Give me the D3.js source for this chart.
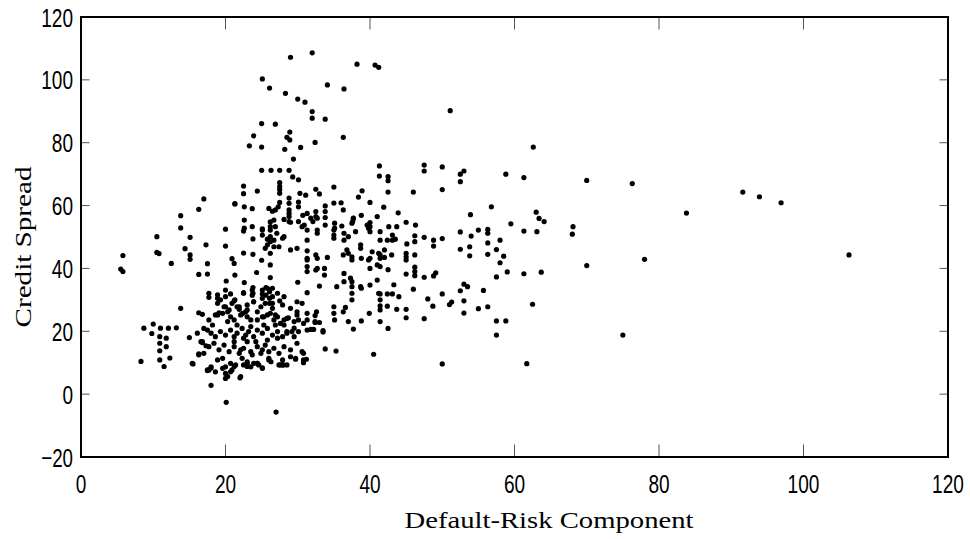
<!DOCTYPE html>
<html><head><meta charset="utf-8">
<script src="https://cdn.jsdelivr.net/npm/d3@7"></script>
<style>html,body{margin:0;padding:0;background:#fff;}svg{display:block;}</style>
</head><body>
<svg id="chart" width="970" height="539"></svg>
<script>
// Default-risk component (x) and credit spread (y)
const defaultRisk = [
70.0,76.3,91.6,93.9,96.9,83.8,68.1,68.0,70.0,78.0,106.3,75.0,51.1,62.6,
29.0,32.0,38.2,40.7,41.2,25.1,26.1,34.1,36.4,28.3,30.0,31.0,32.0,32.0,33.8,25.0,26.9,28.9,23.9,28.5,28.9,36.3,23.3,25.0,28.2,30.4,32.4,29.4,
25.0,26.3,27.5,28.8,29.3,30.1,41.3,41.3,42.5,42.5,47.5,47.5,22.5,22.5,24.4,27.5,27.5,27.5,27.5,21.3,22.6,23.7,26.0,26.5,26.9,27.3,27.5,
28.8,28.8,28.8,28.8,28.8,30.3,31.1,30.1,30.1,32.5,33.0,35.0,32.5,32.5,31.3,30.7,33.8,33.8,33.8,35.0,36.0,36.3,38.9,38.4,40.0,41.9,46.0,
43.9,45.0,46.3,41.0,38.8,37.7,37.6,26.2,26.2,25.1,22.6,22.6,23.7,28.1,29.0,30.1,30.9,35.1,35.1,36.1,40.0,40.0,42.6,43.7,
50.0,52.5,53.0,52.5,58.8,61.3,42.5,50.0,53.9,56.8,63.0,63.4,64.1,59.5,61.3,63.1,41.4,41.4,43.1,43.1,43.5,46.2,46.2,45.1,47.5,48.8,48.8,
50.0,52.5,52.5,54.0,55.0,56.3,56.3,56.3,56.3,53.8,53.8,57.5,58.0,58.5,58.0,59.0,61.3,63.7,57.5,42.0,42.0,41.4,43.0,45.0,45.0,45.0,46.2,
41.4,42.5,45.0,46.2,46.2,46.2,47.5,48.8,49.1,43.3,42.4,43.1,41.4,44.0,46.0,48.0,50.0,52.5,53.0,53.5,55.7,48.7,51.0,51.3,53.0,55.0,56.3,
62.5,41.4,42.4,43.7,45.0,
41.4,41.4,41.4,45.0,47.5,42.5,53.0,57.5,58.8,57.5,50.0,61.7,
5.8,5.5,5.8,10.5,10.5,10.8,12.5,13.8,13.8,15.1,14.4,15.1,15.1,16.3,17.0,17.3,17.5,17.5,16.3,13.8,20.0,20.0,21.3,20.9,21.2,21.3,20.1,
22.5,22.5,23.8,23.8,25.1,25.1,25.0,24.3,26.2,22.6,22.5,26.2,26.2,25.5,26.2,26.2,20.0,20.0,18.9,18.9,17.7,17.7,21.2,21.9,22.4,19.8,20.5,
19.1,18.6,16.3,16.8,25.1,25.1,25.1,26.5,26.5,26.5,23.9,23.0,24.4,25.1,25.8,26.9,8.7,10.0,11.0,12.1,13.2,
8.3,9.8,10.9,10.9,10.9,10.9,11.5,11.8,11.8,12.3,15.0,15.5,16.3,16.8,17.3,17.5,18.0,18.0,20.1,27.0,20.0,20.0,20.7,22.0,21.2,23.0,23.0,
24.4,25.1,26.3,27.6,28.0,29.7,30.8,31.2,32.4,32.4,33.0,33.5,33.8,30.8,
31.3,30.0,31.3,20.7,21.3,22.5,23.7,23.7,25.8,26.1,26.1,26.1,27.2,27.5,28.1,29.9,29.9,29.9,31.3,31.3,31.3,28.7,29.5,28.1,28.5,29.2,29.5,
17.7,18.2,17.5,
18.9,19.6,20.3,20.7,21.2,21.9,22.1,22.8,23.0,23.5,24.4,25.3,26.2,26.7,27.2,27.6,28.1,28.5,
17.0,18.0,18.6,19.3,20.0,20.7,21.2,21.6,22.3,22.8,23.2,23.9,24.4,25.1,25.8,26.5,27.2,27.9,28.5,29.5,30.1,
16.8,17.7,18.4,19.1,19.8,20.5,21.2,21.9,22.5,23.0,23.5,24.4,24.9,25.5,26.0,26.7,27.4,28.1,29.0,29.9,30.6,
15.4,16.3,17.5,18.0,18.9,19.6,20.0,20.3,20.9,21.4,22.1,22.3,23.0,23.5,24.4,25.1,26.0,27.4,27.9,29.0,29.7,30.8,
31.3,31.3,31.3,32.5,32.5,33.7,33.7,33.0,32.6,32.4,31.8,32.2,33.5,35.0,35.0,35.1,36.3,36.6,37.0,37.7,37.5,37.5,37.5,37.5,36.4,36.4,35.4,
38.8,39.9,40.5,35.3,36.3,36.8,37.5,37.5,38.8,40.0,40.0,40.3,38.8,40.0,41.0,
26.2,26.7,26.9,27.1,27.9,28.1,25.8,25.8,26.7,26.7,27.4,28.8,30.6,31.3,31.8,32.1,32.7,32.7,32.7,33.8,31.3,31.3,32.7,32.7,34.1,29.0,29.9,
23.8,23.8,25.6,25.6,35.0,35.0,35.0,36.4,36.4,37.0,37.0,37.7,37.5,38.0,38.7,38.7,39.6,39.8,40.0,39.8,41.0,41.2,41.4,42.4,37.3,38.7,41.2,
18.9,19.3,20.0,20.9,21.6,23.0,23.9,24.9,25.5,26.5,27.9,29.0,30.6,30.1,30.8,20.3,21.6,23.5,25.3,26.9,21.2,22.5,24.2,25.8,27.2,22.1,23.7,
25.1,27.9,28.5,23.9,24.6,26.0,22.5,20.7,19.6,18.6,17.7,17.0,16.6,16.1
];
const creditSpread = [
68.0,67.0,64.3,62.8,60.9,57.6,53.3,50.9,40.9,42.9,44.3,18.8,90.2,78.6,
107.2,108.6,105.0,104.7,104.0,100.3,97.4,98.4,97.1,95.7,93.9,92.9,89.9,87.8,87.5,86.1,85.9,83.4,82.2,81.7,80.9,81.7,79.0,78.6,77.9,78.5,80.1,74.8,
71.2,71.2,71.2,71.2,69.1,68.2,72.6,69.4,69.2,67.9,72.9,71.0,66.2,63.8,64.6,67.3,66.0,65.0,63.9,60.5,59.6,59.0,59.1,58.2,58.6,59.6,61.0,
62.4,60.7,58.6,56.5,54.9,63.9,63.3,61.1,59.6,65.2,63.7,65.9,58.1,56.5,57.5,56.9,59.9,58.1,56.2,60.8,60.9,58.6,64.7,62.7,61.0,59.5,64.3,
57.7,54.7,53.8,56.5,56.9,55.9,54.9,54.8,53.3,52.6,55.4,52.8,53.3,55.6,54.7,54.9,53.8,54.4,52.8,53.5,54.6,53.3,53.3,53.3,
72.3,70.0,71.0,67.6,70.0,68.9,64.3,65.1,57.1,59.6,57.9,55.9,54.9,54.2,51.9,51.7,51.7,49.0,50.6,49.0,49.3,50.4,48.5,47.8,49.9,49.0,47.1,
49.5,51.6,46.1,50.3,52.2,52.4,51.2,48.1,44.5,46.9,44.0,46.0,49.0,43.9,41.8,38.9,38.3,38.8,37.3,45.9,43.5,44.3,44.3,44.8,43.7,42.7,44.3,
40.6,39.6,38.2,40.4,39.0,37.7,37.2,37.6,38.6,34.8,31.9,31.9,31.9,31.0,33.4,30.3,31.9,32.9,35.0,34.2,33.0,28.0,28.5,29.3,29.7,27.2,27.8,
28.6,28.1,28.0,27.0,27.0,
30.0,26.8,23.1,24.3,24.0,20.9,25.8,23.3,23.3,18.8,9.6,9.7,
44.1,39.8,39.0,50.1,45.1,44.7,41.6,56.8,52.9,49.9,46.3,44.3,42.9,58.8,62.1,47.5,41.5,38.2,38.1,27.3,52.5,47.1,60.6,43.1,41.6,37.9,36.0,
51.9,44.9,49.4,44.5,52.2,50.6,42.6,38.7,37.1,35.5,32.3,50.1,48.5,46.4,44.8,41.1,33.1,31.0,31.6,30.5,32.1,30.8,29.7,27.8,25.7,27.8,26.8,
25.9,25.2,25.9,25.4,33.1,31.9,30.5,33.7,31.0,28.9,29.4,26.8,26.2,24.6,25.2,25.2,21.0,22.3,21.0,21.0,21.1,
10.4,19.3,18.3,16.2,13.8,10.9,8.8,17.8,15.1,11.5,18.0,9.6,12.8,16.4,15.4,7.5,8.3,2.8,-2.6,-5.7,5.0,6.6,7.1,5.2,8.8,9.8,8.8,
9.8,8.4,10.3,9.3,9.3,11.1,10.0,11.1,25.0,22.8,22.8,19.8,14.4,13.0,
39.0,35.6,32.3,31.9,30.0,32.1,33.1,31.5,33.7,32.6,30.5,28.9,32.1,29.7,31.0,29.4,26.2,25.2,25.7,23.6,20.4,24.3,23.1,22.0,19.9,19.9,21.0,
23.6,22.0,20.4,
25.2,25.7,26.2,24.6,23.6,27.0,25.2,26.2,24.6,23.6,23.6,24.6,25.7,23.6,24.6,22.5,23.6,24.1,
20.9,19.4,18.3,19.9,18.8,20.4,18.3,19.4,20.9,18.8,19.9,18.3,20.4,19.4,20.9,18.8,19.9,18.3,19.4,18.3,19.9,
16.7,15.1,16.2,14.1,15.6,13.5,15.1,13.0,14.6,16.7,13.5,15.1,13.0,15.6,13.5,14.6,13.0,15.1,14.1,16.2,13.5,
9.8,12.5,7.7,8.7,10.9,11.4,8.7,5.6,7.7,9.3,5.6,11.4,10.3,8.7,9.8,8.2,10.9,9.3,9.3,11.9,11.4,10.9,
45.6,43.2,40.6,44.3,39.5,40.0,37.9,34.4,26.2,23.1,20.6,20.6,20.2,27.8,25.7,23.6,26.2,27.6,23.1,20.7,30.0,35.8,34.2,32.1,38.4,35.8,34.2,
23.3,25.7,12.7,13.7,44.3,45.9,43.7,42.7,43.2,43.2,40.0,45.3,33.7,34.7,36.3,
52.2,55.4,53.3,51.2,49.6,50.1,49.3,47.5,49.0,46.9,46.9,57.5,53.3,52.2,56.0,54.9,56.0,52.2,51.2,53.8,49.0,42.7,43.2,40.0,43.5,45.9,46.4,
33.9,32.1,33.9,31.5,52.2,50.6,49.6,51.2,49.0,50.1,44.8,56.0,54.4,51.7,46.4,47.5,53.8,52.8,51.7,42.7,41.1,44.8,43.2,49.0,36.9,34.2,32.1,
28.9,30.0,27.8,28.9,27.8,28.4,29.4,27.8,28.9,27.3,28.4,27.3,28.9,23.6,22.5,23.1,22.0,21.5,22.0,22.0,16.7,17.8,16.7,17.2,17.8,14.1,12.5,
14.1,10.9,9.3,9.8,9.3,11.4,9.3,9.8,8.2,7.1,7.7,13.0,16.7,19.4
];
const xTickValues = [0, 20, 40, 60, 80, 100, 120];
const yTickValues = [-20, 0, 20, 40, 60, 80, 100, 120];
const xLabel = "Default-Risk Component";
const yLabel = "Credit Spread";

const svg = d3.select("#chart");
svg.append("rect").attr("width", 970).attr("height", 539).attr("fill", "#fff");

const L = 81, R = 948, T = 17, B = 457;
const x = d3.scaleLinear().domain([0, 120]).range([L, R]);
const y = d3.scaleLinear().domain([-20, 120]).range([B, T]);

const n = Math.min(defaultRisk.length, creditSpread.length);
const pts = d3.range(n).map(i => ({ x: defaultRisk[i], y: creditSpread[i] }));

// points
svg.append("g").selectAll("circle").data(pts).join("circle")
  .attr("cx", d => x(d.x)).attr("cy", d => y(d.y))
  .attr("r", 2.6).attr("fill", "#000");

// ticks (inward, on all four sides)
const tk = svg.append("g").attr("stroke", "#555").attr("stroke-width", 1);
xTickValues.forEach(v => {
  tk.append("line").attr("x1", x(v)).attr("x2", x(v)).attr("y1", B).attr("y2", B - 12.5);
  tk.append("line").attr("x1", x(v)).attr("x2", x(v)).attr("y1", T).attr("y2", T + 12.5);
});
yTickValues.forEach(v => {
  tk.append("line").attr("x1", L).attr("x2", L + 8.5).attr("y1", y(v)).attr("y2", y(v));
  tk.append("line").attr("x1", R).attr("x2", R - 8.5).attr("y1", y(v)).attr("y2", y(v));
});

// frame
svg.append("rect").attr("x", L).attr("y", T).attr("width", R - L).attr("height", B - T)
  .attr("fill", "none").attr("stroke", "#000").attr("stroke-width", 2);

const fmt = v => (v < 0 ? "\u2212" + Math.abs(v) : String(v));
const tickFont = "'Liberation Sans Narrow', 'Liberation Sans', Arial, sans-serif";
const charW = 10.6;

svg.append("g").selectAll("text").data(xTickValues).join("text")
  .attr("x", d => Math.min(x(d), 970 - fmt(d).length * charW / 2 - 4)).attr("y", 493)
  .attr("text-anchor", "middle")
  .attr("font-family", tickFont).attr("font-size", 26)
  .attr("textLength", d => fmt(d).length * charW).attr("lengthAdjust", "spacingAndGlyphs")
  .text(d => fmt(d));

svg.append("g").selectAll("text").data(yTickValues).join("text")
  .attr("x", 73).attr("y", d => y(d) + 9.5)
  .attr("text-anchor", "end")
  .attr("font-family", tickFont).attr("font-size", 26)
  .attr("textLength", d => fmt(d).length * charW).attr("lengthAdjust", "spacingAndGlyphs")
  .text(d => fmt(d));

// axis labels
svg.append("text").attr("x", 549).attr("y", 528).attr("text-anchor", "middle")
  .attr("font-family", "'Liberation Serif', 'Times New Roman', serif").attr("font-size", 23)
  .attr("textLength", 289).attr("lengthAdjust", "spacingAndGlyphs")
  .text(xLabel);

svg.append("text").attr("transform", "translate(31,247) rotate(-90)").attr("text-anchor", "middle")
  .attr("font-family", "'Liberation Serif', 'Times New Roman', serif").attr("font-size", 23)
  .attr("textLength", 161).attr("lengthAdjust", "spacingAndGlyphs")
  .text(yLabel);
</script>
</body></html>
